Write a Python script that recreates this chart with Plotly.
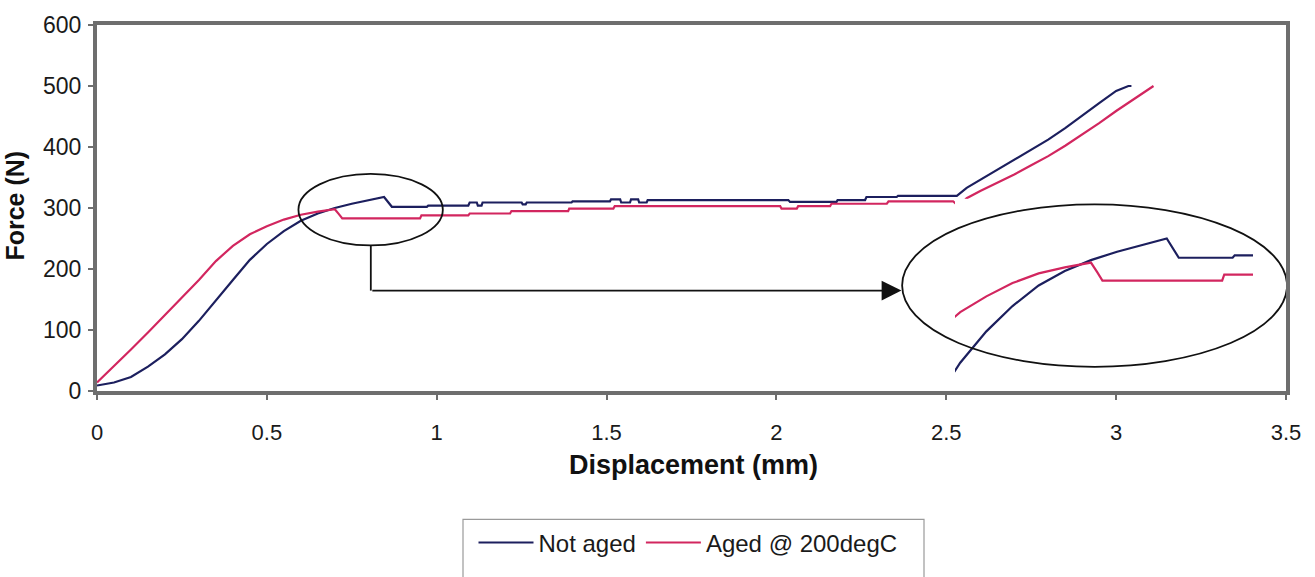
import plotly.graph_objects as go

# ---------------- data ----------------
not_aged_x = [0.00, 0.025, 0.05, 0.10, 0.15, 0.20, 0.25, 0.30, 0.35, 0.40, 0.45, 0.50, 0.55,
              0.60, 0.65, 0.70, 0.75, 0.80, 0.845, 0.868, 0.971, 0.975, 1.093, 1.097, 1.118,
              1.121, 1.132, 1.135, 1.25, 1.253, 1.262, 1.265, 1.397, 1.40, 1.51, 1.513, 1.54,
              1.543, 1.569, 1.572, 1.593, 1.596, 1.618, 1.621, 2.035, 2.04, 2.177, 2.18, 2.261,
              2.265, 2.354, 2.358, 2.531, 2.56, 2.60, 2.65, 2.70, 2.75, 2.80, 2.85, 2.90, 2.95,
              3.00, 3.036, 3.045]
not_aged_y = [9, 11, 14, 23, 40, 60, 85, 115, 149, 182, 215, 241, 262,
              279, 291, 300, 307, 313, 318, 302, 302, 304, 304, 309, 309,
              304, 304, 309, 309, 306, 306, 309, 309, 311, 311, 314, 314,
              309, 309, 314, 314, 309, 309, 313, 313, 310, 310, 313, 313,
              318, 318, 320, 320, 333, 346, 362, 379, 395, 412, 431, 452, 472,
              492, 500, 500]

aged_x = [0.00, 0.04, 0.10, 0.15, 0.20, 0.25, 0.30, 0.35, 0.40, 0.45, 0.50, 0.55, 0.60,
          0.65, 0.70, 0.712, 0.722, 0.951, 0.955, 1.093, 1.097, 1.216, 1.22, 1.387, 1.39,
          1.52, 1.524, 2.011, 2.015, 2.06, 2.064, 2.158, 2.162, 2.325, 2.33, 2.52, 2.53,
          2.545, 2.56, 2.60, 2.65, 2.70, 2.75, 2.80, 2.85, 2.90, 2.95, 3.00, 3.05, 3.11]
aged_y = [14, 35, 68, 96, 125, 154, 182, 213, 238, 257, 270, 281, 289,
          294, 298, 290, 283, 283, 288, 288, 291, 291, 295, 295, 299,
          299, 303, 303, 299, 299, 303, 303, 307, 307, 311, 311, 306,
          307, 316, 328, 341, 355, 370, 385, 402, 420, 439, 459, 478, 500]

series_names = ["Not aged", "Aged @ 200degC"]
series_colors = ["#1c1f5e", "#d2265f"]

x_ticks = [0, 0.5, 1, 1.5, 2, 2.5, 3, 3.5]
x_tick_text = ["0", "0.5", "1", "1.5", "2", "2.5", "3", "3.5"]
y_ticks = [0, 100, 200, 300, 400, 500, 600]

# zoomed inset window (data range shown inside the big ellipse)
inset_x_range = [0.44, 1.01]
inset_y_range = [206.8, 350.8]

# annotation geometry (data units of the main axes)
small_ellipse = dict(x0=0.593, x1=1.018, y0=238.6, y1=356)
big_ellipse = dict(x0=2.370, x1=3.503, y0=39.7, y1=306)
connector_x = 0.806
connector_y = 164.6
arrow_tip_x = 2.368

FONT = "Liberation Sans, Arial, sans-serif"

# ---------------- layout geometry (pixels) ----------------
W, H = 1315, 577
ML, MR, MT, MB = 97, 29, 20, 178
PW, PH = W - ML - MR, H - MT - MB


def px_x(p):
    return (p - ML) / PW


def px_y(p):
    return (H - MB - p) / PH


fig = go.Figure()

for xs, ys, name, col in [(not_aged_x, not_aged_y, series_names[0], series_colors[0]),
                          (aged_x, aged_y, series_names[1], series_colors[1])]:
    fig.add_trace(go.Scatter(x=xs, y=ys, mode="lines", name=name,
                             line=dict(color=col, width=2.2), xaxis="x", yaxis="y"))

# inset traces (same data on zoomed axes)
for xs, ys, name, col in [(not_aged_x, not_aged_y, series_names[0], series_colors[0]),
                          (aged_x, aged_y, series_names[1], series_colors[1])]:
    fig.add_trace(go.Scatter(x=xs, y=ys, mode="lines", name=name, showlegend=False,
                             line=dict(color=col, width=2.2), xaxis="x2", yaxis="y2",
                             hoverinfo="skip"))

fig.update_layout(
    width=W, height=H,
    margin=dict(l=ML, r=MR, t=MT, b=MB),
    paper_bgcolor="white", plot_bgcolor="white",
    font=dict(family=FONT, size=22, color="#1a1a1a"),
    xaxis=dict(range=[0, 3.5], tickvals=x_ticks, ticktext=x_tick_text,
               showgrid=False, zeroline=False,
               showline=True, linecolor="#6e6e6e", linewidth=4, mirror=True,
               ticks="outside", ticklen=5, tickcolor="#6e6e6e", tickwidth=1.5,
               ticklabelstandoff=14,
               tickfont=dict(family=FONT, size=22, color="#1a1a1a")),
    yaxis=dict(range=[0, 600], tickvals=y_ticks,
               showgrid=False, zeroline=False,
               showline=True, linecolor="#6e6e6e", linewidth=4, mirror=True,
               ticks="outside", ticklen=5, tickcolor="#6e6e6e", tickwidth=1.5,
               ticklabelstandoff=2,
               tickfont=dict(family=FONT, size=23, color="#1a1a1a")),
    xaxis2=dict(domain=[px_x(955), px_x(1253)], range=inset_x_range, anchor="y2",
                visible=False, showgrid=False, zeroline=False),
    yaxis2=dict(domain=[px_y(380), px_y(200)], range=inset_y_range, anchor="x2",
                visible=False, showgrid=False, zeroline=False),
    showlegend=True,
    legend=dict(orientation="h", x=px_x(688), xanchor="center",
                y=px_y(533), yanchor="top",
                bgcolor="rgba(0,0,0,0)", borderwidth=0,
                font=dict(family=FONT, size=24, color="#1a1a1a"),
                itemwidth=55),
)

# ellipses, connector, arrow
fig.add_shape(type="circle", xref="x", yref="y", line=dict(color="#111111", width=1.8),
              **small_ellipse)
fig.add_shape(type="circle", xref="x", yref="y", line=dict(color="#111111", width=1.8),
              **big_ellipse)
fig.add_shape(type="line", xref="x", yref="y", x0=connector_x, x1=connector_x,
              y0=small_ellipse["y0"], y1=connector_y, line=dict(color="#111111", width=1.8))
fig.add_annotation(x=arrow_tip_x, y=connector_y, ax=connector_x, ay=connector_y,
                   xref="x", yref="y", axref="x", ayref="y", text="", showarrow=True,
                   arrowhead=2, arrowsize=2.2, arrowwidth=1.8, arrowcolor="#111111")

# legend frame (extends past the bottom edge like the reference)
fig.add_shape(type="rect", xref="paper", yref="paper",
              x0=px_x(463), x1=px_x(924), y0=px_y(600), y1=px_y(532),
              line=dict(color="#9a9a9a", width=1.2), fillcolor="rgba(0,0,0,0)")

# axis titles
fig.add_annotation(text="<b>Displacement (mm)</b>", xref="paper", yref="paper",
                   x=px_x(693), y=px_y(476), xanchor="center", yanchor="middle",
                   showarrow=False, font=dict(family=FONT, size=27, color="#111111"))
fig.add_annotation(text="<b>Force (N)</b>", xref="paper", yref="paper",
                   x=px_x(31), y=px_y(207), xanchor="right", yanchor="middle",
                   textangle=-90, showarrow=False,
                   font=dict(family=FONT, size=25, color="#111111"))

fig.write_html("out.html")
